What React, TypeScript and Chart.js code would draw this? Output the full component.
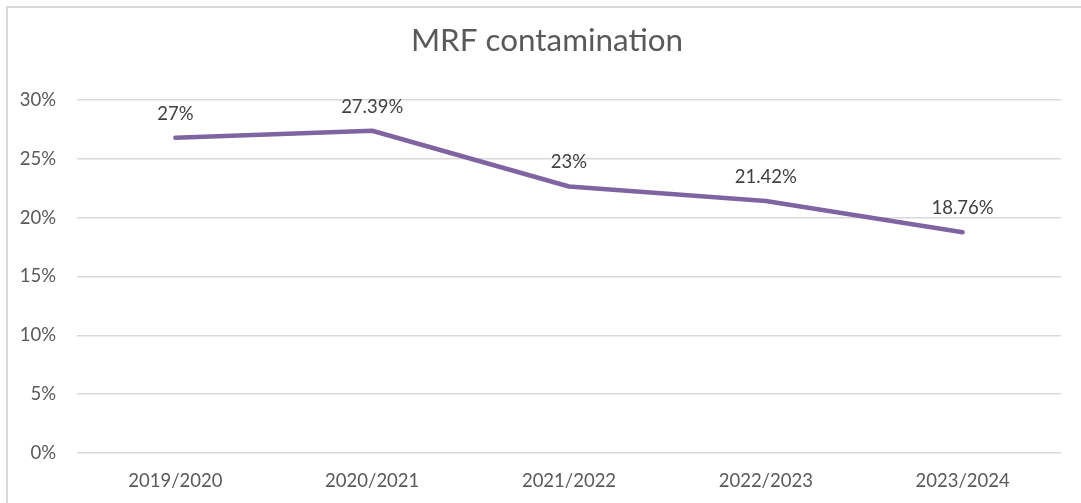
import React, { useEffect, useRef } from "react";
import { Chart, registerables } from "chart.js";

Chart.register(...registerables);

const chartTitle = "MRF contamination";
const categories = ["2019/2020", "2020/2021", "2021/2022", "2022/2023", "2023/2024"];
const contamination = [26.8, 27.39, 22.65, 21.42, 18.76];
const valueLabels = ["27%", "27.39%", "23%", "21.42%", "18.76%"];
const yMin = 0;
const yMax = 30;
const yStep = 5;

const FONT = "Lato, 'Open Sans', sans-serif";

const dataLabelPlugin = {
  id: "dataLabels",
  afterDatasetsDraw(chart: any) {
    const ctx = chart.ctx;
    const meta = chart.getDatasetMeta(0);
    ctx.save();
    ctx.font = `18.5px ${FONT}`;
    ctx.fillStyle = "#404040";
    ctx.textAlign = "center";
    ctx.textBaseline = "middle";
    meta.data.forEach((pt: any, i: number) => {
      ctx.fillText(valueLabels[i], pt.x, pt.y - 24);
    });
    ctx.restore();
  },
};

const titlePlugin = {
  id: "centeredTitle",
  afterDraw(chart: any) {
    const ctx = chart.ctx;
    ctx.save();
    ctx.font = `31.4px ${FONT}`;
    ctx.fillStyle = "#595959";
    ctx.textAlign = "center";
    ctx.textBaseline = "alphabetic";
    ctx.fillText(chartTitle, 547, 51);
    ctx.restore();
  },
};

export default function App() {
  const ref = useRef<HTMLCanvasElement | null>(null);

  useEffect(() => {
    document.body.style.overflow = "hidden";
    const canvas = ref.current!;
    const chart = new Chart(canvas, {
      type: "line",
      data: {
        labels: categories,
        datasets: [
          {
            data: contamination,
            borderColor: "#8064A2",
            borderWidth: 4.5,
            pointRadius: 0,
            pointHoverRadius: 0,
            borderCapStyle: "round",
            borderJoinStyle: "round",
            tension: 0,
            fill: false,
          },
        ],
      },
      options: {
        responsive: false,
        animation: false,
        layout: { padding: { left: 10, right: 20, top: 100, bottom: 0 } },
        plugins: {
          legend: { display: false },
          tooltip: { enabled: false },
          title: { display: false },
        },
        scales: {
          x: {
            offset: true,
            grid: { display: false, drawTicks: false },
            border: { display: false },
            ticks: {
              color: "#595959",
              font: { family: FONT, size: 18.5 },
              padding: 17,
              maxRotation: 0,
              autoSkip: false,
            },
            afterFit(scale: any) {
              scale.height = 50;
            },
          },
          y: {
            min: yMin,
            max: yMax,
            grid: { color: "#d9d9d9", lineWidth: 1.5, drawTicks: false },
            border: { display: false },
            ticks: {
              stepSize: yStep,
              color: "#595959",
              font: { family: FONT, size: 18.5 },
              padding: 21,
              callback: (v: any) => `${v}%`,
            },
            afterFit(scale: any) {
              scale.width = 67;
            },
          },
        },
      },
      plugins: [dataLabelPlugin, titlePlugin],
    });
    return () => chart.destroy();
  }, []);

  return (
    <>
      <canvas
        ref={ref}
        width={1081}
        height={503}
        style={{ position: "fixed", left: 0, top: 0, width: 1081, height: 503 }}
      />
      <div
        style={{
          position: "fixed",
          left: 6,
          top: 6,
          width: 1100,
          height: 520,
          borderLeft: "2px solid #d9d9d9",
          borderTop: "2px solid #d9d9d9",
          pointerEvents: "none",
        }}
      />
    </>
  );
}
